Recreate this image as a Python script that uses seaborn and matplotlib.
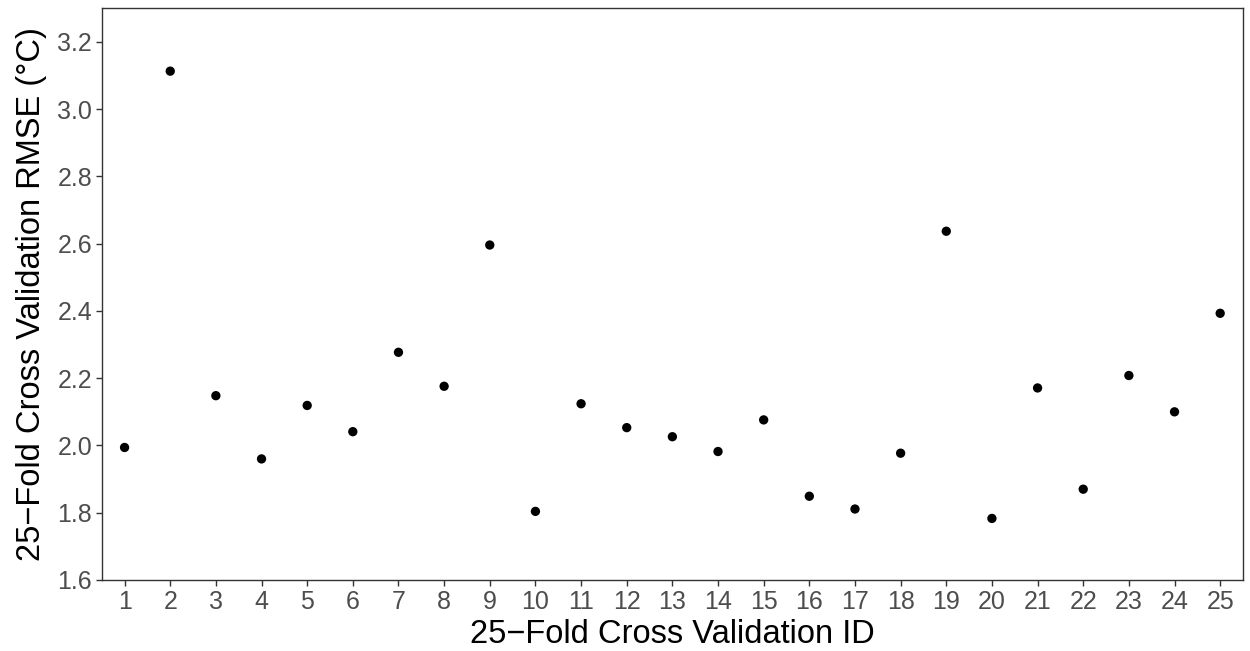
import matplotlib
matplotlib.use("Agg")
import matplotlib.pyplot as plt
import seaborn as sns
import pandas as pd

fold_ids = list(range(1, 26))
rmse = [1.994, 3.113, 2.148, 1.960, 2.119, 2.041, 2.277, 2.176, 2.596, 1.804,
        2.124, 2.053, 2.026, 1.982, 2.076, 1.849, 1.811, 1.977, 2.637, 1.783,
        2.171, 1.870, 2.208, 2.100, 2.393]
y_ticks = [1.6, 1.8, 2.0, 2.2, 2.4, 2.6, 2.8, 3.0, 3.2]

sns.set_style("white")
plt.rcParams['font.family'] = ['Liberation Sans', 'DejaVu Sans']

df = pd.DataFrame({"id": fold_ids, "rmse": rmse})

fig = plt.figure(figsize=(12.5, 6.51), dpi=100)
ax = fig.add_axes([0.0814, 0.1091, 0.913, 0.8782])
sns.scatterplot(data=df, x="id", y="rmse", ax=ax, color="black", s=45,
                linewidth=0, edgecolor="none")

ax.set_xlim(0.5, 25.5)
ax.set_ylim(1.6, 3.3)
ax.set_xticks(fold_ids)
ax.set_xticklabels([str(i) for i in fold_ids])
ax.set_yticks(y_ticks)
ax.set_yticklabels([f"{v:.1f}" for v in y_ticks])

for sp in ax.spines.values():
    sp.set_visible(True)
    sp.set_color("#333333")
    sp.set_linewidth(1.0)

ax.tick_params(axis="both", which="major", length=4, width=1.0, color="#333333",
               labelsize=18, labelcolor="#4D4D4D", direction="out",
               bottom=True, left=True, pad=3)
ax.grid(False)

ax.set_xlabel("25\u2212Fold Cross Validation ID", fontsize=23.5, color="black", labelpad=4)
ax.set_ylabel("25\u2212Fold Cross Validation RMSE (\u00b0C)", fontsize=23.5, color="black", labelpad=7)

fig.savefig("out.png", dpi=100)
